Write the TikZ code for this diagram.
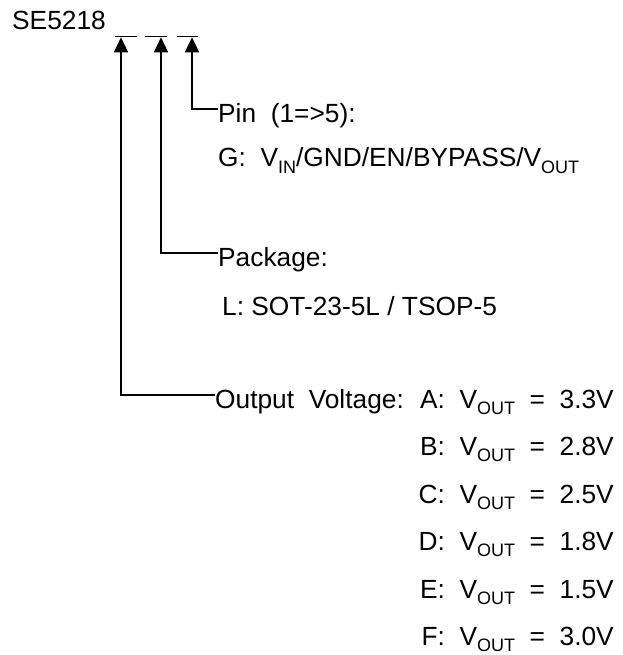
\documentclass[tikz,border=0pt]{standalone}
\usepackage{fontspec}
\setmainfont{Liberation Sans}
\usetikzlibrary{arrows.meta}
\newcommand{\lo}[1]{\raisebox{-6pt}{\fontsize{18}{18}\selectfont #1}}
\tikzset{
  lead/.style={{Triangle[length=15pt,width=14pt]}-, line width=1.4pt},
  bar/.style={line width=1.6pt},
  txt/.style={inner sep=0pt, font=\fontsize{26.3}{30}\selectfont}
}

\begin{document}
\begin{tikzpicture}[x=1pt,y=1pt]
\useasboundingbox (0,0) rectangle (622,-655);
\node[txt, anchor=base west] (part) at (12,-30) {SE5218};
% the three blanks of the part number
\draw[bar] (115,-36.5) -- (137,-36.5);
\draw[bar] (145,-36.5) -- (167,-36.5);
\draw[bar] (177,-36.5) -- (198,-36.5);
\coordinate (t1) at (121,-37.3);
\coordinate (t2) at (161,-37.3);
\coordinate (t3) at (192,-37.3);
% pin field
\node[txt, anchor=base west] (pin) at (218,-123) {Pin~~(1=>5):};
\node[txt, anchor=base west] (pinsel) at (218,-167) {G:~~V\lo{IN}/GND/EN/BYPASS/V\lo{OUT}};
% package field
\node[txt, anchor=base west] (pkg) at (218,-266) {Package:};
\node[txt, anchor=base west] (pkgsel) at (222,-315) {L:~SOT-23-5L~/~TSOP-5};
% voltage field
\node[txt, anchor=base west] (outv) at (215,-408) {Output~~Voltage:};
\foreach \l/\v [count=\i from 0] in {A/3.3,B/2.8,C/2.5,D/1.8,E/1.5,F/3.0}
  \node[txt, anchor=base east] (v\l) at (614,-408-47.5*\i) {\l:~~V\lo{OUT}~~=~~\v V};
\draw[lead] (t3) |- ([yshift=14pt]pin.base west);
\draw[lead] (t2) |- ([yshift=13pt]pkg.base west);
\draw[lead] (t1) |- ([yshift=13pt]outv.base west);
\end{tikzpicture}
\end{document}
